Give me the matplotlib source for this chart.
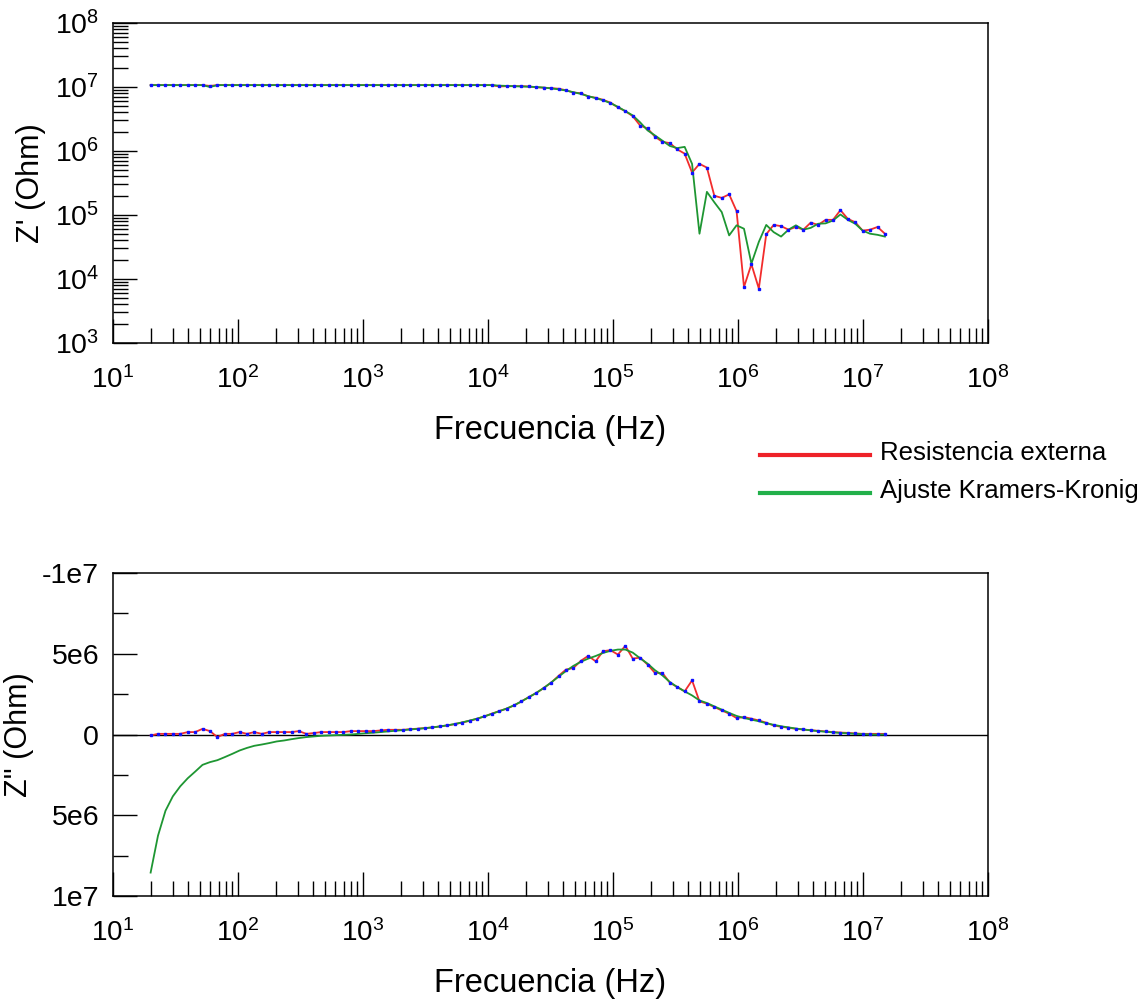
import matplotlib
matplotlib.use('Agg')
import matplotlib.pyplot as plt
from matplotlib.lines import Line2D
from matplotlib.ticker import LogLocator, FixedLocator, FixedFormatter, FuncFormatter, NullFormatter
import numpy as np

plt.rcParams['font.family'] = ['Liberation Sans', 'DejaVu Sans']
plt.rcParams['mathtext.fontset'] = 'custom'
plt.rcParams['mathtext.rm'] = 'Liberation Sans'
plt.rcParams['mathtext.it'] = 'Liberation Sans:italic'
plt.rcParams['mathtext.bf'] = 'Liberation Sans:bold'

# frequency sweep (Hz), 100 points 20 Hz - 15 MHz
freq = [20.0, 22.9, 26.3, 30.1, 34.5, 39.6, 45.4, 52.0, 59.7, 68.4,
        78.4, 89.9, 103, 118, 135, 155, 178, 204, 234, 268,
        307, 352, 404, 463, 531, 609, 698, 800, 917, 1051,
        1205, 1382, 1584, 1816, 2082, 2387, 2736, 3137, 3596, 4122,
        4726, 5417, 6211, 7120, 8162, 9357, 10727, 12297, 14097, 16161,
        18527, 21239, 24349, 27913, 32000, 36684, 42055, 48212, 55270, 63362,
        72638, 83272, 95463, 109440, 125460, 143830, 164890, 189030, 216700, 248430,
        284800, 326490, 374290, 429090, 491910, 563930, 646490, 741140, 849650, 974040,
        1116600, 1280100, 1467600, 1682400, 1928700, 2211100, 2534800, 2905900, 3331400, 3819100,
        4378200, 5019200, 5754100, 6596500, 7562200, 8669400, 9938700, 11394000, 13062000, 14974000]

# Z' measured (Ohm)
zre_meas = [1.07e7, 1.07e7, 1.07e7, 1.07e7, 1.07e7, 1.07e7, 1.07e7, 1.07e7, 1.04e7, 1.07e7,
            1.07e7, 1.07e7, 1.07e7, 1.07e7, 1.07e7, 1.07e7, 1.07e7, 1.07e7, 1.07e7, 1.07e7,
            1.07e7, 1.07e7, 1.07e7, 1.07e7, 1.07e7, 1.07e7, 1.07e7, 1.07e7, 1.07e7, 1.07e7,
            1.07e7, 1.07e7, 1.07e7, 1.07e7, 1.07e7, 1.07e7, 1.07e7, 1.07e7, 1.07e7, 1.07e7,
            1.07e7, 1.07e7, 1.07e7, 1.07e7, 1.07e7, 1.07e7, 1.07e7, 1.02e7, 1.03e7, 1.03e7,
            1.03e7, 1.02e7, 9.9e6, 9.75e6, 9.6e6, 9.4e6, 8.9e6, 8.2e6, 8.0e6, 7.1e6,
            6.8e6, 6.3e6, 5.7e6, 4.8e6, 4.2e6, 3.5e6, 2.5e6, 2.25e6, 1.67e6, 1.39e6,
            1.33e6, 1.06e6, 9.1e5, 4.6e5, 6.3e5, 5.5e5, 2.0e5, 1.85e5, 2.1e5, 1.15e5,
            7.5e3, 1.7e4, 7.1e3, 5.0e4, 7.0e4, 6.7e4, 5.9e4, 6.5e4, 5.9e4, 7.6e4,
            7.0e4, 8.4e4, 8.4e4, 1.19e5, 8.7e4, 7.7e4, 5.7e4, 5.9e4, 6.5e4, 5.1e4]

# Z' Kramers-Kronig fit (Ohm)
zre_kk = [1.07e7, 1.07e7, 1.07e7, 1.07e7, 1.07e7, 1.07e7, 1.07e7, 1.07e7, 1.00e7, 1.07e7,
          1.07e7, 1.07e7, 1.07e7, 1.07e7, 1.07e7, 1.07e7, 1.07e7, 1.07e7, 1.07e7, 1.07e7,
          1.07e7, 1.07e7, 1.07e7, 1.07e7, 1.07e7, 1.07e7, 1.07e7, 1.07e7, 1.07e7, 1.07e7,
          1.07e7, 1.07e7, 1.07e7, 1.07e7, 1.07e7, 1.07e7, 1.07e7, 1.07e7, 1.07e7, 1.07e7,
          1.07e7, 1.07e7, 1.07e7, 1.07e7, 1.07e7, 1.07e7, 1.07e7, 1.05e7, 1.04e7, 1.03e7,
          1.02e7, 1.01e7, 1.0e7, 9.8e6, 9.5e6, 9.2e6, 8.8e6, 8.3e6, 7.8e6, 7.2e6,
          6.7e6, 6.2e6, 5.6e6, 4.9e6, 4.2e6, 3.6e6, 2.8e6, 2.1e6, 1.75e6, 1.45e6,
          1.2e6, 1.11e6, 1.16e6, 6.3e5, 5.1e4, 2.3e5, 1.58e5, 1.11e5, 4.8e4, 6.9e4,
          6.1e4, 1.74e4, 3.8e4, 7.0e4, 5.4e4, 4.6e4, 5.9e4, 6.9e4, 5.9e4, 6.3e4,
          7.3e4, 7.4e4, 8.2e4, 1.02e5, 8.4e4, 7.3e4, 5.7e4, 5.1e4, 4.9e4, 4.6e4]

# Z'' measured (MOhm)
zim_meas = [0.06, -0.04, -0.04, -0.04, -0.04, -0.15, -0.15, -0.35, -0.21, 0.16,
            -0.04, -0.04, -0.15, -0.04, -0.15, -0.04, -0.15, -0.15, -0.15, -0.15,
            -0.21, -0.04, -0.09, -0.15, -0.15, -0.15, -0.15, -0.21, -0.21, -0.21,
            -0.21, -0.25, -0.29, -0.29, -0.29, -0.33, -0.36, -0.40, -0.44, -0.50,
            -0.56, -0.64, -0.74, -0.85, -0.97, -1.12, -1.29, -1.45, -1.60, -1.80,
            -2.05, -2.32, -2.57, -2.88, -3.21, -3.63, -4.02, -4.12, -4.56, -4.87,
            -4.53, -5.16, -5.22, -4.95, -5.49, -4.70, -4.76, -4.33, -3.81, -3.81,
            -3.21, -2.94, -2.67, -3.35, -2.05, -1.91, -1.70, -1.49, -1.29, -1.02,
            -1.08, -0.98, -0.87, -0.73, -0.56, -0.48, -0.42, -0.35, -0.31, -0.26,
            -0.23, -0.19, -0.15, -0.12, -0.10, -0.07, -0.04, -0.04, -0.04, -0.04]

# Z'' Kramers-Kronig fit (MOhm)
zim_kk = [8.55, 6.27, 4.72, 3.83, 3.21, 2.71, 2.30, 1.88, 1.71, 1.59,
          1.40, 1.20, 0.99, 0.83, 0.70, 0.62, 0.53, 0.43, 0.37, 0.29,
          0.22, 0.16, 0.12, 0.08, 0.06, 0.04, 0.02, 0.00, -0.04, -0.08,
          -0.11, -0.15, -0.19, -0.23, -0.27, -0.31, -0.35, -0.39, -0.44, -0.50,
          -0.57, -0.65, -0.75, -0.86, -0.98, -1.12, -1.28, -1.44, -1.61, -1.81,
          -2.05, -2.31, -2.58, -2.88, -3.22, -3.58, -3.93, -4.25, -4.50, -4.70,
          -4.86, -5.05, -5.18, -5.26, -5.26, -5.07, -4.72, -4.39, -3.98, -3.66,
          -3.25, -2.94, -2.67, -2.42, -2.11, -1.95, -1.74, -1.54, -1.34, -1.15,
          -1.02, -0.92, -0.82, -0.70, -0.60, -0.51, -0.44, -0.37, -0.31, -0.26,
          -0.21, -0.17, -0.13, -0.10, -0.07, -0.04, -0.02, 0.00, 0.01, 0.00]

x_ticks = [1e1, 1e2, 1e3, 1e4, 1e5, 1e6, 1e7, 1e8]
zim_ticks = [-1e7, -5e6, 0, 5e6, 1e7]
zim_ticklabels = ['-1e7', '5e6', '0', '5e6', '1e7']

RED = '#f22c2c'
GREEN = '#1e9632'
BLUE = '#1010ff'

W, H = 1143, 1005
fig = plt.figure(figsize=(W / 100, H / 100), dpi=100)

ax1 = fig.add_axes([113 / W, 1 - 343 / H, 875 / W, 320 / H])
ax2 = fig.add_axes([113 / W, 1 - 896 / H, 875 / W, 323 / H])

f = np.array(freq)
zim_m = np.array(zim_meas) * 1e6
zim_k = np.array(zim_kk) * 1e6

# top: real part
ax1.plot(f, zre_meas, color=RED, lw=1.3, zorder=2)
ax1.plot(f, zre_kk, color=GREEN, lw=1.3, zorder=3)
ax1.plot(f, zre_meas, ls='none', marker='s', ms=2.0, color=BLUE, mec=BLUE, zorder=4)
ax1.set_xscale('log')
ax1.set_yscale('log')
ax1.set_xlim(1e1, 1e8)
ax1.set_ylim(1e3, 1e8)
ax1.yaxis.set_major_locator(LogLocator(base=10, numticks=10))
ax1.yaxis.set_minor_locator(LogLocator(base=10, subs=np.arange(2, 10), numticks=20))
ax1.yaxis.set_minor_formatter(NullFormatter())
ax1.set_ylabel("Z' (Ohm)", fontsize=22, labelpad=6)

# bottom: imaginary part
ax2.axhline(0, color='black', lw=1.0, zorder=1)
ax2.plot(f, zim_m, color=RED, lw=1.3, zorder=2)
ax2.plot(f, zim_k, color=GREEN, lw=1.3, zorder=3)
ax2.plot(f, zim_m, ls='none', marker='s', ms=2.0, color=BLUE, mec=BLUE, zorder=4)
ax2.set_xscale('log')
ax2.set_xlim(1e1, 1e8)
ax2.set_ylim(1e7, -1e7)
ax2.yaxis.set_major_locator(FixedLocator(zim_ticks))
ax2.yaxis.set_major_formatter(FixedFormatter(zim_ticklabels))
ax2.yaxis.set_minor_locator(FixedLocator([-7.5e6, -2.5e6, 2.5e6, 7.5e6]))
ax2.set_ylabel('Z" (Ohm)', fontsize=22, labelpad=6)

decade_fmt = FuncFormatter(lambda v, p: r'$\mathregular{10^{%d}}$' % round(np.log10(v)))

for ax in (ax1, ax2):
    ax.xaxis.set_major_locator(FixedLocator(x_ticks))
    ax.xaxis.set_minor_locator(LogLocator(base=10, subs=np.arange(2, 10), numticks=20))
    ax.xaxis.set_major_formatter(decade_fmt)
    ax.xaxis.set_minor_formatter(NullFormatter())
    ax.set_xlabel('Frecuencia (Hz)', fontsize=23.5, labelpad=15)
    ax.tick_params(axis='x', which='major', direction='in', length=17, width=1,
                   labelsize=20, pad=17, top=False)
    ax.tick_params(axis='x', which='minor', direction='in', length=11, width=1, top=False)
    ax.tick_params(axis='y', which='major', direction='in', length=17, width=1,
                   labelsize=20.5, pad=10, right=False)
    ax.tick_params(axis='y', which='minor', direction='in', length=11, width=1, right=False)
    if ax is ax1:
        ax.yaxis.set_major_formatter(decade_fmt)
    for sp in ax.spines.values():
        sp.set_linewidth(1.1)

# legend drawn between the panels
fig.add_artist(Line2D([760 / W, 870 / W], [1 - 455 / H] * 2, color='#ee2228', lw=3))
fig.add_artist(Line2D([760 / W, 870 / W], [1 - 493 / H] * 2, color='#22b04a', lw=3))
fig.text(880 / W, 1 - 453 / H, 'Resistencia externa', fontsize=18.5, va='center')
fig.text(880 / W, 1 - 491 / H, 'Ajuste Kramers-Kronig', fontsize=18.5, va='center')

fig.savefig('out.png', dpi=100, facecolor='white')
